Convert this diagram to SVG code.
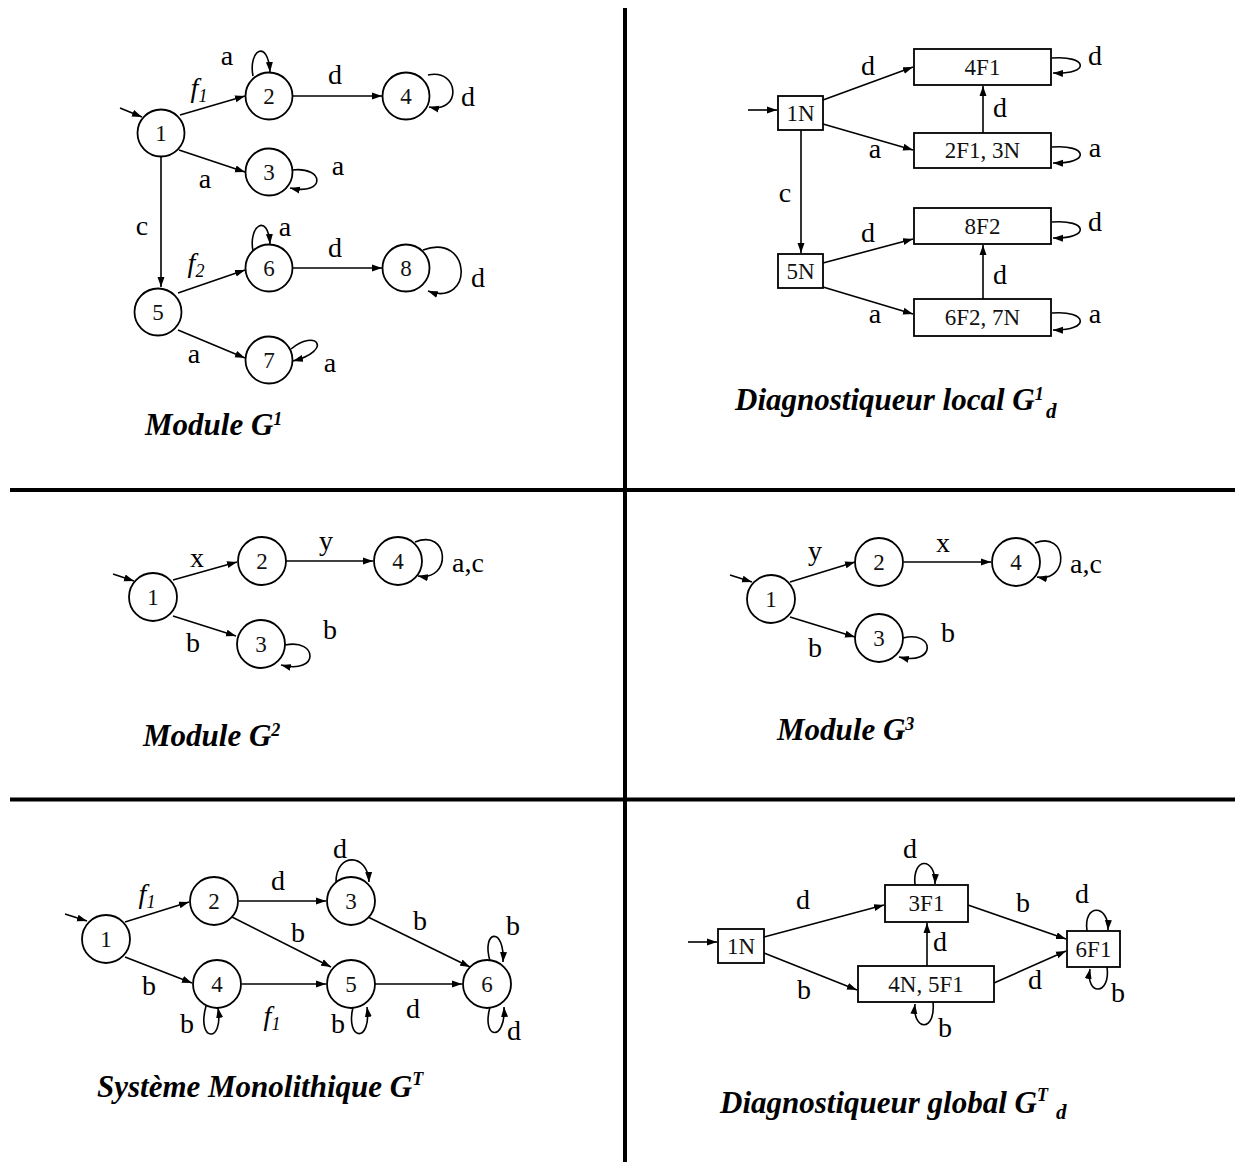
<svg xmlns="http://www.w3.org/2000/svg" width="1235" height="1162" viewBox="0 0 1235 1162">
<defs>
<marker id="ah" markerUnits="userSpaceOnUse" markerWidth="10" markerHeight="8" viewBox="0 0 10 8" refX="10" refY="4" orient="auto">
<path d="M0,0.5 L10,4 L0,7.5 z" fill="#000"/>
</marker>
<style>
.st{fill:#fff;stroke:#000;stroke-width:1.8}
.nl{font-family:"Liberation Serif","Times New Roman",serif;font-size:23px;text-anchor:middle;fill:#111}
.el{font-family:"Liberation Serif","Times New Roman",serif;font-size:28px;text-anchor:middle;fill:#000}
.it{font-style:italic}
.sb{font-size:18px;font-style:italic}
.tt{font-family:"Liberation Serif","Times New Roman",serif;font-size:31px;font-weight:bold;font-style:italic;fill:#000}
.sp{font-size:18px}
.sd{font-size:21px}
.cn path,.cn line{fill:none;stroke:#000;stroke-width:1.6;marker-end:url(#ah)}
.dv{stroke:#000;stroke-width:4}
</style>
</defs>
<rect width="1235" height="1162" fill="#fff"/>
<g id="dividers">
<line class="dv" x1="625" y1="8" x2="625" y2="1162"/>
<line class="dv" x1="10" y1="490" x2="1235" y2="490"/>
<line class="dv" x1="10" y1="799.5" x2="1235" y2="799.5"/>
</g>

<!-- Panel 1: Module G1 -->
<g id="p1-connectors" class="cn">
<line x1="120" y1="108" x2="142" y2="117"/>
<line x1="180" y1="115" x2="245" y2="96"/>
<path d="M253,76 C248,50 268,38 270,72"/>
<line x1="293" y1="96" x2="382" y2="96"/>
<path d="M428,75 C460,68 462,114 429,107"/>
<line x1="179" y1="150" x2="245" y2="172"/>
<path d="M292,170 C325,166 326,196 290,188"/>
<line x1="161" y1="157" x2="161" y2="287"/>
<line x1="178" y1="293" x2="245" y2="270"/>
<path d="M253,251 C248,226 268,212 270,244"/>
<line x1="293" y1="268" x2="382" y2="268"/>
<path d="M423,250 C472,232 474,308 428,291"/>
<line x1="178" y1="330" x2="245" y2="358"/>
<path d="M291,349 C316,328 334,350 293,361"/>
</g>
<g id="p1-n1"><circle class="st" cx="161" cy="133" r="23.5"/><text class="nl" x="161" y="141">1</text></g>
<g id="p1-n2"><circle class="st" cx="269" cy="96" r="23.5"/><text class="nl" x="269" y="104">2</text></g>
<g id="p1-n4"><circle class="st" cx="406" cy="96" r="23.5"/><text class="nl" x="406" y="104">4</text></g>
<g id="p1-n3"><circle class="st" cx="269" cy="172" r="23.5"/><text class="nl" x="269" y="180">3</text></g>
<g id="p1-n5"><circle class="st" cx="158" cy="312" r="23.5"/><text class="nl" x="158" y="320">5</text></g>
<g id="p1-n6"><circle class="st" cx="269" cy="268" r="23.5"/><text class="nl" x="269" y="276">6</text></g>
<g id="p1-n8"><circle class="st" cx="406" cy="268" r="23.5"/><text class="nl" x="406" y="276">8</text></g>
<g id="p1-n7"><circle class="st" cx="269" cy="360" r="23.5"/><text class="nl" x="269" y="368">7</text></g>
<g id="p1-labels">
<text class="el" x="227" y="65">a</text>
<text class="el it" x="199" y="97">f<tspan class="sb" dy="5">1</tspan></text>
<text class="el" x="335" y="84">d</text>
<text class="el" x="468" y="106">d</text>
<text class="el" x="205" y="188">a</text>
<text class="el" x="338" y="175">a</text>
<text class="el" x="142" y="235">c</text>
<text class="el" x="285" y="236">a</text>
<text class="el it" x="196" y="272">f<tspan class="sb" dy="5">2</tspan></text>
<text class="el" x="335" y="257">d</text>
<text class="el" x="478" y="287">d</text>
<text class="el" x="194" y="363">a</text>
<text class="el" x="330" y="372">a</text>
<text class="tt" x="145" y="435">Module G<tspan class="sp" dy="-10">1</tspan></text>
</g>

<!-- Panel 2: Diagnostiqueur local -->
<g id="p2-connectors" class="cn">
<line x1="748" y1="110" x2="777" y2="110"/>
<line x1="823" y1="100" x2="913" y2="67"/>
<line x1="823" y1="124" x2="913" y2="150"/>
<line x1="983" y1="133" x2="983" y2="86"/>
<path d="M1052,58 C1088,55 1091,75 1053,73"/>
<path d="M1052,147 C1088,144 1091,164 1053,163"/>
<line x1="801" y1="130" x2="801" y2="253"/>
<line x1="823" y1="263" x2="913" y2="239"/>
<line x1="823" y1="287" x2="913" y2="314"/>
<line x1="983" y1="299" x2="983" y2="245"/>
<path d="M1052,222 C1088,219 1091,239 1053,238"/>
<path d="M1052,313 C1088,310 1091,331 1053,330"/>
</g>
<g id="p2-1N"><rect class="st" x="778" y="96" width="45" height="34"/><text class="nl" x="800.5" y="121">1N</text></g>
<g id="p2-4F1"><rect class="st" x="914" y="49" width="137" height="36"/><text class="nl" x="982.5" y="75">4F1</text></g>
<g id="p2-2F1"><rect class="st" x="914" y="133" width="137" height="35"/><text class="nl" x="982.5" y="158">2F1, 3N</text></g>
<g id="p2-5N"><rect class="st" x="778" y="254" width="45" height="34"/><text class="nl" x="800.5" y="279">5N</text></g>
<g id="p2-8F2"><rect class="st" x="914" y="208" width="137" height="36"/><text class="nl" x="982.5" y="234">8F2</text></g>
<g id="p2-6F2"><rect class="st" x="914" y="299" width="137" height="37"/><text class="nl" x="982.5" y="325">6F2, 7N</text></g>
<g id="p2-labels">
<text class="el" x="868" y="75">d</text>
<text class="el" x="875" y="158">a</text>
<text class="el" x="1000" y="117">d</text>
<text class="el" x="1095" y="65">d</text>
<text class="el" x="1095" y="157">a</text>
<text class="el" x="785" y="202">c</text>
<text class="el" x="868" y="242">d</text>
<text class="el" x="875" y="323">a</text>
<text class="el" x="1000" y="284">d</text>
<text class="el" x="1095" y="231">d</text>
<text class="el" x="1095" y="323">a</text>
<text class="tt" x="735" y="410">Diagnostiqueur local G<tspan class="sp" dy="-10">1</tspan><tspan class="sd" x="1046" dy="18">d</tspan></text>
</g>

<!-- Panel 3: Module G2 -->
<g id="p3-connectors" class="cn">
<line x1="113" y1="574" x2="134" y2="581"/>
<line x1="173" y1="580" x2="237" y2="562"/>
<line x1="286" y1="561" x2="373" y2="561"/>
<path d="M415,542 C450,528 452,582 418,576"/>
<line x1="173" y1="616" x2="236" y2="636"/>
<path d="M285,645 C318,638 320,675 281,665"/>
</g>
<g id="p3-n1"><circle class="st" cx="153" cy="597" r="24"/><text class="nl" x="153" y="605">1</text></g>
<g id="p3-n2"><circle class="st" cx="262" cy="561" r="24"/><text class="nl" x="262" y="569">2</text></g>
<g id="p3-n4"><circle class="st" cx="398" cy="561" r="24"/><text class="nl" x="398" y="569">4</text></g>
<g id="p3-n3"><circle class="st" cx="261" cy="644" r="24"/><text class="nl" x="261" y="652">3</text></g>
<g id="p3-labels">
<text class="el" x="197" y="567">x</text>
<text class="el" x="326" y="550">y</text>
<text class="el" x="452" y="572" style="text-anchor:start">a,c</text>
<text class="el" x="193" y="652">b</text>
<text class="el" x="330" y="639">b</text>
<text class="tt" x="143" y="746">Module G<tspan class="sp" dy="-10">2</tspan></text>
</g>

<!-- Panel 4: Module G3 -->
<g id="p4-connectors" class="cn">
<line x1="730" y1="575" x2="752" y2="582"/>
<line x1="790" y1="582" x2="855" y2="562"/>
<line x1="904" y1="562" x2="991" y2="562"/>
<path d="M1035,543 C1068,530 1070,583 1037,577"/>
<line x1="790" y1="617" x2="855" y2="637"/>
<path d="M903,638 C935,630 937,666 899,657"/>
</g>
<g id="p4-n1"><circle class="st" cx="771" cy="599" r="24"/><text class="nl" x="771" y="607">1</text></g>
<g id="p4-n2"><circle class="st" cx="879" cy="562" r="24"/><text class="nl" x="879" y="570">2</text></g>
<g id="p4-n4"><circle class="st" cx="1016" cy="562" r="24"/><text class="nl" x="1016" y="570">4</text></g>
<g id="p4-n3"><circle class="st" cx="879" cy="638" r="24"/><text class="nl" x="879" y="646">3</text></g>
<g id="p4-labels">
<text class="el" x="815" y="560">y</text>
<text class="el" x="943" y="552">x</text>
<text class="el" x="1070" y="573" style="text-anchor:start">a,c</text>
<text class="el" x="815" y="657">b</text>
<text class="el" x="948" y="642">b</text>
<text class="tt" x="777" y="740">Module G<tspan class="sp" dy="-10">3</tspan></text>
</g>

<!-- Panel 5: Systeme Monolithique -->
<g id="p5-connectors" class="cn">
<line x1="65" y1="914" x2="87" y2="921"/>
<line x1="125" y1="922" x2="189" y2="902"/>
<line x1="239" y1="901" x2="326" y2="901"/>
<path d="M336,882 C336,852 368,853 369,882"/>
<line x1="232" y1="917" x2="331" y2="967"/>
<line x1="368" y1="917" x2="470" y2="967"/>
<line x1="125" y1="957" x2="192" y2="983"/>
<line x1="242" y1="984" x2="326" y2="984"/>
<path d="M206,1006 C196,1042 224,1044 218,1008"/>
<path d="M353,1007 C345,1042 372,1043 367,1007"/>
<line x1="375" y1="984" x2="462" y2="984"/>
<path d="M490,961 C481,930 505,926 503,962"/>
<path d="M490,1007 C481,1040 506,1042 504,1007"/>
</g>
<g id="p5-n1"><circle class="st" cx="106" cy="939" r="24"/><text class="nl" x="106" y="947">1</text></g>
<g id="p5-n2"><circle class="st" cx="214" cy="901" r="24"/><text class="nl" x="214" y="909">2</text></g>
<g id="p5-n3"><circle class="st" cx="351" cy="901" r="24"/><text class="nl" x="351" y="909">3</text></g>
<g id="p5-n4"><circle class="st" cx="217" cy="984" r="24"/><text class="nl" x="217" y="992">4</text></g>
<g id="p5-n5"><circle class="st" cx="351" cy="984" r="24"/><text class="nl" x="351" y="992">5</text></g>
<g id="p5-n6"><circle class="st" cx="487" cy="984" r="24"/><text class="nl" x="487" y="992">6</text></g>
<g id="p5-labels">
<text class="el it" x="147" y="903">f<tspan class="sb" dy="5">1</tspan></text>
<text class="el" x="278" y="890">d</text>
<text class="el" x="340" y="858">d</text>
<text class="el" x="298" y="942">b</text>
<text class="el" x="420" y="930">b</text>
<text class="el" x="149" y="995">b</text>
<text class="el it" x="272" y="1025">f<tspan class="sb" dy="5">1</tspan></text>
<text class="el" x="187" y="1033">b</text>
<text class="el" x="338" y="1033">b</text>
<text class="el" x="413" y="1018">d</text>
<text class="el" x="513" y="935">b</text>
<text class="el" x="514" y="1040">d</text>
<text class="tt" x="97" y="1097">Système Monolithique G<tspan class="sp" dy="-12">T</tspan></text>
</g>

<!-- Panel 6: Diagnostiqueur global -->
<g id="p6-connectors" class="cn">
<line x1="688" y1="942" x2="717" y2="942"/>
<line x1="764" y1="937" x2="884" y2="905"/>
<line x1="764" y1="953" x2="857" y2="990"/>
<line x1="927" y1="966" x2="927" y2="923"/>
<path d="M915,885 C912,856 936,857 935,884"/>
<path d="M933,1002 C936,1033 912,1031 915,1004"/>
<line x1="968" y1="905" x2="1066" y2="939"/>
<line x1="994" y1="983" x2="1066" y2="951"/>
<path d="M1087,931 C1083,903 1109,904 1108,930"/>
<path d="M1107,967 C1111,996 1085,996 1090,969"/>
</g>
<g id="p6-1N"><rect class="st" x="718" y="929" width="46" height="34"/><text class="nl" x="741" y="954">1N</text></g>
<g id="p6-3F1"><rect class="st" x="885" y="885" width="83" height="37"/><text class="nl" x="926.5" y="911">3F1</text></g>
<g id="p6-4N5F1"><rect class="st" x="858" y="966" width="136" height="36"/><text class="nl" x="926" y="992">4N, 5F1</text></g>
<g id="p6-6F1"><rect class="st" x="1067" y="931" width="53" height="36"/><text class="nl" x="1093.5" y="957">6F1</text></g>
<g id="p6-labels">
<text class="el" x="803" y="909">d</text>
<text class="el" x="804" y="999">b</text>
<text class="el" x="940" y="951">d</text>
<text class="el" x="910" y="858">d</text>
<text class="el" x="945" y="1037">b</text>
<text class="el" x="1023" y="912">b</text>
<text class="el" x="1035" y="989">d</text>
<text class="el" x="1082" y="903">d</text>
<text class="el" x="1118" y="1002">b</text>
<text class="tt" x="720" y="1113">Diagnostiqueur global G<tspan class="sp" dy="-12">T</tspan><tspan class="sd" x="1056" dy="18">d</tspan></text>
</g>
</svg>
